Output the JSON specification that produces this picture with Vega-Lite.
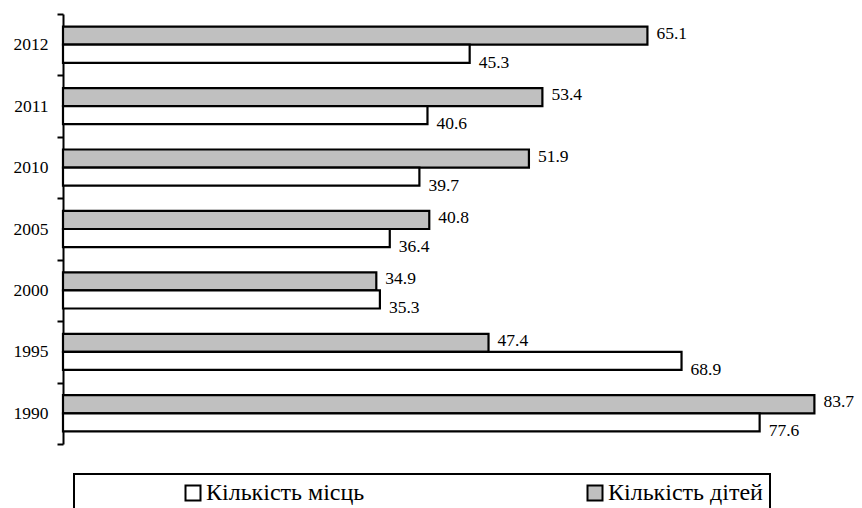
{
  "$schema": "https://vega.github.io/schema/vega-lite/v6.json",
  "width": 790,
  "height": 430,
  "padding": {"left": 13, "top": 5, "right": 0, "bottom": 0},
  "background": "white",
  "config": {
    "view": {"stroke": null},
    "font": "Liberation Serif, Times New Roman, serif"
  },
  "data": {
    "values": [
      {"year": "2012", "series": "Кількість дітей", "value": 65.1},
      {"year": "2012", "series": "Кількість місць", "value": 45.3},
      {"year": "2011", "series": "Кількість дітей", "value": 53.4},
      {"year": "2011", "series": "Кількість місць", "value": 40.6},
      {"year": "2010", "series": "Кількість дітей", "value": 51.9},
      {"year": "2010", "series": "Кількість місць", "value": 39.7},
      {"year": "2005", "series": "Кількість дітей", "value": 40.8},
      {"year": "2005", "series": "Кількість місць", "value": 36.4},
      {"year": "2000", "series": "Кількість дітей", "value": 34.9},
      {"year": "2000", "series": "Кількість місць", "value": 35.3},
      {"year": "1995", "series": "Кількість дітей", "value": 47.4},
      {"year": "1995", "series": "Кількість місць", "value": 68.9},
      {"year": "1990", "series": "Кількість дітей", "value": 83.7},
      {"year": "1990", "series": "Кількість місць", "value": 77.6}
    ]
  },
  "encoding": {
    "y": {
      "field": "year",
      "type": "nominal",
      "sort": ["2012", "2011", "2010", "2005", "2000", "1995", "1990"],
      "scale": {"paddingInner": 0, "paddingOuter": 0},
      "axis": {
        "title": null,
        "tickBand": "extent",
        "domainColor": "black",
        "domainWidth": 2,
        "tickColor": "black",
        "tickWidth": 2,
        "tickSize": 6,
        "labelFont": "Liberation Serif, Times New Roman, serif",
        "labelFontSize": 17.5,
        "labelColor": "black",
        "labelPadding": 9
      }
    },
    "yOffset": {
      "field": "series",
      "type": "nominal",
      "sort": ["Кількість дітей", "Кількість місць"],
      "scale": {"paddingInner": 0, "paddingOuter": 0.7}
    },
    "x": {
      "field": "value",
      "type": "quantitative",
      "scale": {"domain": [0, 88], "nice": false},
      "axis": null
    }
  },
  "layer": [
    {
      "mark": {"type": "bar", "stroke": "black", "strokeWidth": 2.2},
      "encoding": {
        "fill": {
          "field": "series",
          "type": "nominal",
          "scale": {"domain": ["Кількість місць", "Кількість дітей"], "range": ["#ffffff", "#c0c0c0"]},
          "legend": {
            "title": null,
            "orient": "none",
            "legendX": 11,
            "legendY": 460,
            "direction": "horizontal",
            "padding": 7,
            "strokeColor": "black",
            "symbolType": "square",
            "symbolSize": 225,
            "symbolStrokeColor": "black",
            "symbolStrokeWidth": 2,
            "symbolOffset": 100,
            "labelOffset": 1,
            "labelFont": "Liberation Serif, Times New Roman, serif",
            "labelFontSize": 24,
            "labelColor": "black",
            "labelLimit": 400,
            "columnPadding": 118,
            "encode": {"legend": {"update": {"strokeWidth": {"value": 2}}}}
          }
        }
      }
    },
    {
      "transform": [{"filter": "datum.series === 'Кількість дітей'"}],
      "mark": {"type": "text", "align": "left", "baseline": "middle", "dx": 9, "dy": -2, "font": "Liberation Serif, Times New Roman, serif", "fontSize": 17.5, "color": "black"},
      "encoding": {"text": {"field": "value", "type": "quantitative", "format": ".1f"}}
    },
    {
      "transform": [{"filter": "datum.series === 'Кількість місць'"}],
      "mark": {"type": "text", "align": "left", "baseline": "middle", "dx": 9, "dy": 9, "font": "Liberation Serif, Times New Roman, serif", "fontSize": 17.5, "color": "black"},
      "encoding": {"text": {"field": "value", "type": "quantitative", "format": ".1f"}}
    }
  ]
}
